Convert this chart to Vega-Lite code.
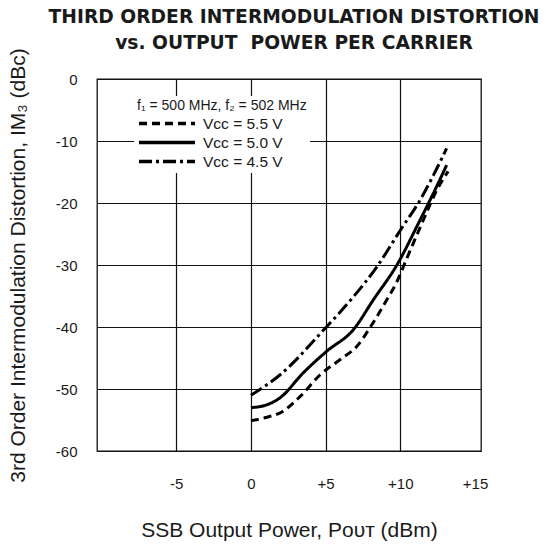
{
  "$schema": "https://vega.github.io/schema/vega-lite/v6.json",
  "width": 384,
  "height": 372,
  "autosize": {"type": "none"},
  "padding": {"left": 97, "top": 79, "right": 65, "bottom": 95},
  "background": "white",
  "title": {
    "text": ["THIRD ORDER INTERMODULATION DISTORTION", "vs. OUTPUT\u00a0 POWER PER CARRIER"],
    "font": "DejaVu Sans",
    "fontSize": 18.7,
    "fontWeight": "bold",
    "color": "#1a1a1a",
    "anchor": "middle",
    "frame": "group",
    "baseline": "bottom",
    "lineHeight": 26,
    "offset": -24,
    "dx": 5
  },
  "data": {
    "values": [
      {"pout": 0, "im3": -55.1, "series": "Vᴄᴄ = 5.5 V"},
      {"pout": 1, "im3": -54.6, "series": "Vᴄᴄ = 5.5 V"},
      {"pout": 2.07, "im3": -53.7, "series": "Vᴄᴄ = 5.5 V"},
      {"pout": 3.3, "im3": -51.2, "series": "Vᴄᴄ = 5.5 V"},
      {"pout": 4.64, "im3": -47.7, "series": "Vᴄᴄ = 5.5 V"},
      {"pout": 6, "im3": -45.2, "series": "Vᴄᴄ = 5.5 V"},
      {"pout": 7.1, "im3": -43.1, "series": "Vᴄᴄ = 5.5 V"},
      {"pout": 8, "im3": -40, "series": "Vᴄᴄ = 5.5 V"},
      {"pout": 9, "im3": -36, "series": "Vᴄᴄ = 5.5 V"},
      {"pout": 9.77, "im3": -32.7, "series": "Vᴄᴄ = 5.5 V"},
      {"pout": 10.44, "im3": -28.9, "series": "Vᴄᴄ = 5.5 V"},
      {"pout": 11.55, "im3": -22.7, "series": "Vᴄᴄ = 5.5 V"},
      {"pout": 12.45, "im3": -17.9, "series": "Vᴄᴄ = 5.5 V"},
      {"pout": 13.2, "im3": -14.9, "series": "Vᴄᴄ = 5.5 V"},
      {"pout": 0, "im3": -53, "series": "Vᴄᴄ = 5.0 V"},
      {"pout": 1, "im3": -52.6, "series": "Vᴄᴄ = 5.0 V"},
      {"pout": 1.96, "im3": -51.4, "series": "Vᴄᴄ = 5.0 V"},
      {"pout": 3.5, "im3": -47.4, "series": "Vᴄᴄ = 5.0 V"},
      {"pout": 5.08, "im3": -43.9, "series": "Vᴄᴄ = 5.0 V"},
      {"pout": 6.87, "im3": -40.4, "series": "Vᴄᴄ = 5.0 V"},
      {"pout": 8.2, "im3": -35.6, "series": "Vᴄᴄ = 5.0 V"},
      {"pout": 9.77, "im3": -30, "series": "Vᴄᴄ = 5.0 V"},
      {"pout": 11.33, "im3": -22.7, "series": "Vᴄᴄ = 5.0 V"},
      {"pout": 12.22, "im3": -18.4, "series": "Vᴄᴄ = 5.0 V"},
      {"pout": 13.1, "im3": -13.9, "series": "Vᴄᴄ = 5.0 V"},
      {"pout": 0, "im3": -51, "series": "Vᴄᴄ = 4.5 V"},
      {"pout": 1.96, "im3": -47.7, "series": "Vᴄᴄ = 4.5 V"},
      {"pout": 4.86, "im3": -40.5, "series": "Vᴄᴄ = 4.5 V"},
      {"pout": 6.87, "im3": -35.1, "series": "Vᴄᴄ = 4.5 V"},
      {"pout": 8.43, "im3": -30.3, "series": "Vᴄᴄ = 4.5 V"},
      {"pout": 10, "im3": -24.4, "series": "Vᴄᴄ = 4.5 V"},
      {"pout": 11.33, "im3": -19.5, "series": "Vᴄᴄ = 4.5 V"},
      {"pout": 12.22, "im3": -15.5, "series": "Vᴄᴄ = 4.5 V"},
      {"pout": 13.1, "im3": -11.2, "series": "Vᴄᴄ = 4.5 V"}
    ]
  },
  "mark": {"type": "line", "color": "black", "strokeWidth": 3, "interpolate": "monotone"},
  "encoding": {
    "x": {
      "field": "pout",
      "type": "quantitative",
      "scale": {"domain": [-10.3, 15.4], "nice": false, "zero": false},
      "axis": {
        "title": "SSB Output Power, Pᴏᴜᴛ (dBm)",
        "values": [-5, 0, 5, 10, 15],
        "labelExpr": "datum.value > 0 ? '+' + datum.value : '' + datum.value",
        "labelPadding": 25,
        "titlePadding": 28,
        "gridOpacity": {"condition": {"test": "datum.value === 15", "value": 0}, "value": 1}
      }
    },
    "y": {
      "field": "im3",
      "type": "quantitative",
      "scale": {"domain": [-60, 0], "nice": false},
      "axis": {
        "title": "3rd Order Intermodulation Distortion, IM₃ (dBc)",
        "values": [-60, -50, -40, -30, -20, -10, 0],
        "labelExpr": "'' + datum.value",
        "labelPadding": 20,
        "titlePadding": 27
      }
    },
    "strokeDash": {
      "field": "series",
      "type": "nominal",
      "scale": {
        "domain": ["Vᴄᴄ = 5.5 V", "Vᴄᴄ = 5.0 V", "Vᴄᴄ = 4.5 V"],
        "range": [[8, 5], [1, 0], [13, 4, 3, 4]]
      },
      "legend": {
        "title": "f₁ = 500 MHz, f₂ = 502 MHz",
        "orient": "none",
        "legendX": 37,
        "legendY": 17,
        "padding": 3,
        "fillColor": "white",
        "symbolType": "stroke",
        "symbolSize": 3136,
        "symbolStrokeWidth": 3.5,
        "symbolStrokeColor": "black",
        "clipHeight": 17,
        "rowPadding": 2,
        "labelOffset": 6,
        "labelFont": "Liberation Sans",
        "labelFontSize": 15.5,
        "labelColor": "#1a1a1a",
        "titleFont": "Liberation Sans",
        "titleFontSize": 14,
        "titleFontWeight": "normal",
        "titleColor": "#1a1a1a",
        "titlePadding": 2,
        "titleLimit": 300
      }
    }
  },
  "config": {
    "view": {"stroke": "#111", "strokeWidth": 1.3},
    "axis": {
      "ticks": false,
      "domain": false,
      "grid": true,
      "gridColor": "#111",
      "gridWidth": 1.2,
      "labelFont": "Liberation Sans",
      "labelFontSize": 15,
      "labelColor": "#1a1a1a",
      "titleFont": "Liberation Sans",
      "titleFontSize": 21,
      "titleFontWeight": "normal",
      "titleColor": "#1a1a1a"
    }
  }
}
